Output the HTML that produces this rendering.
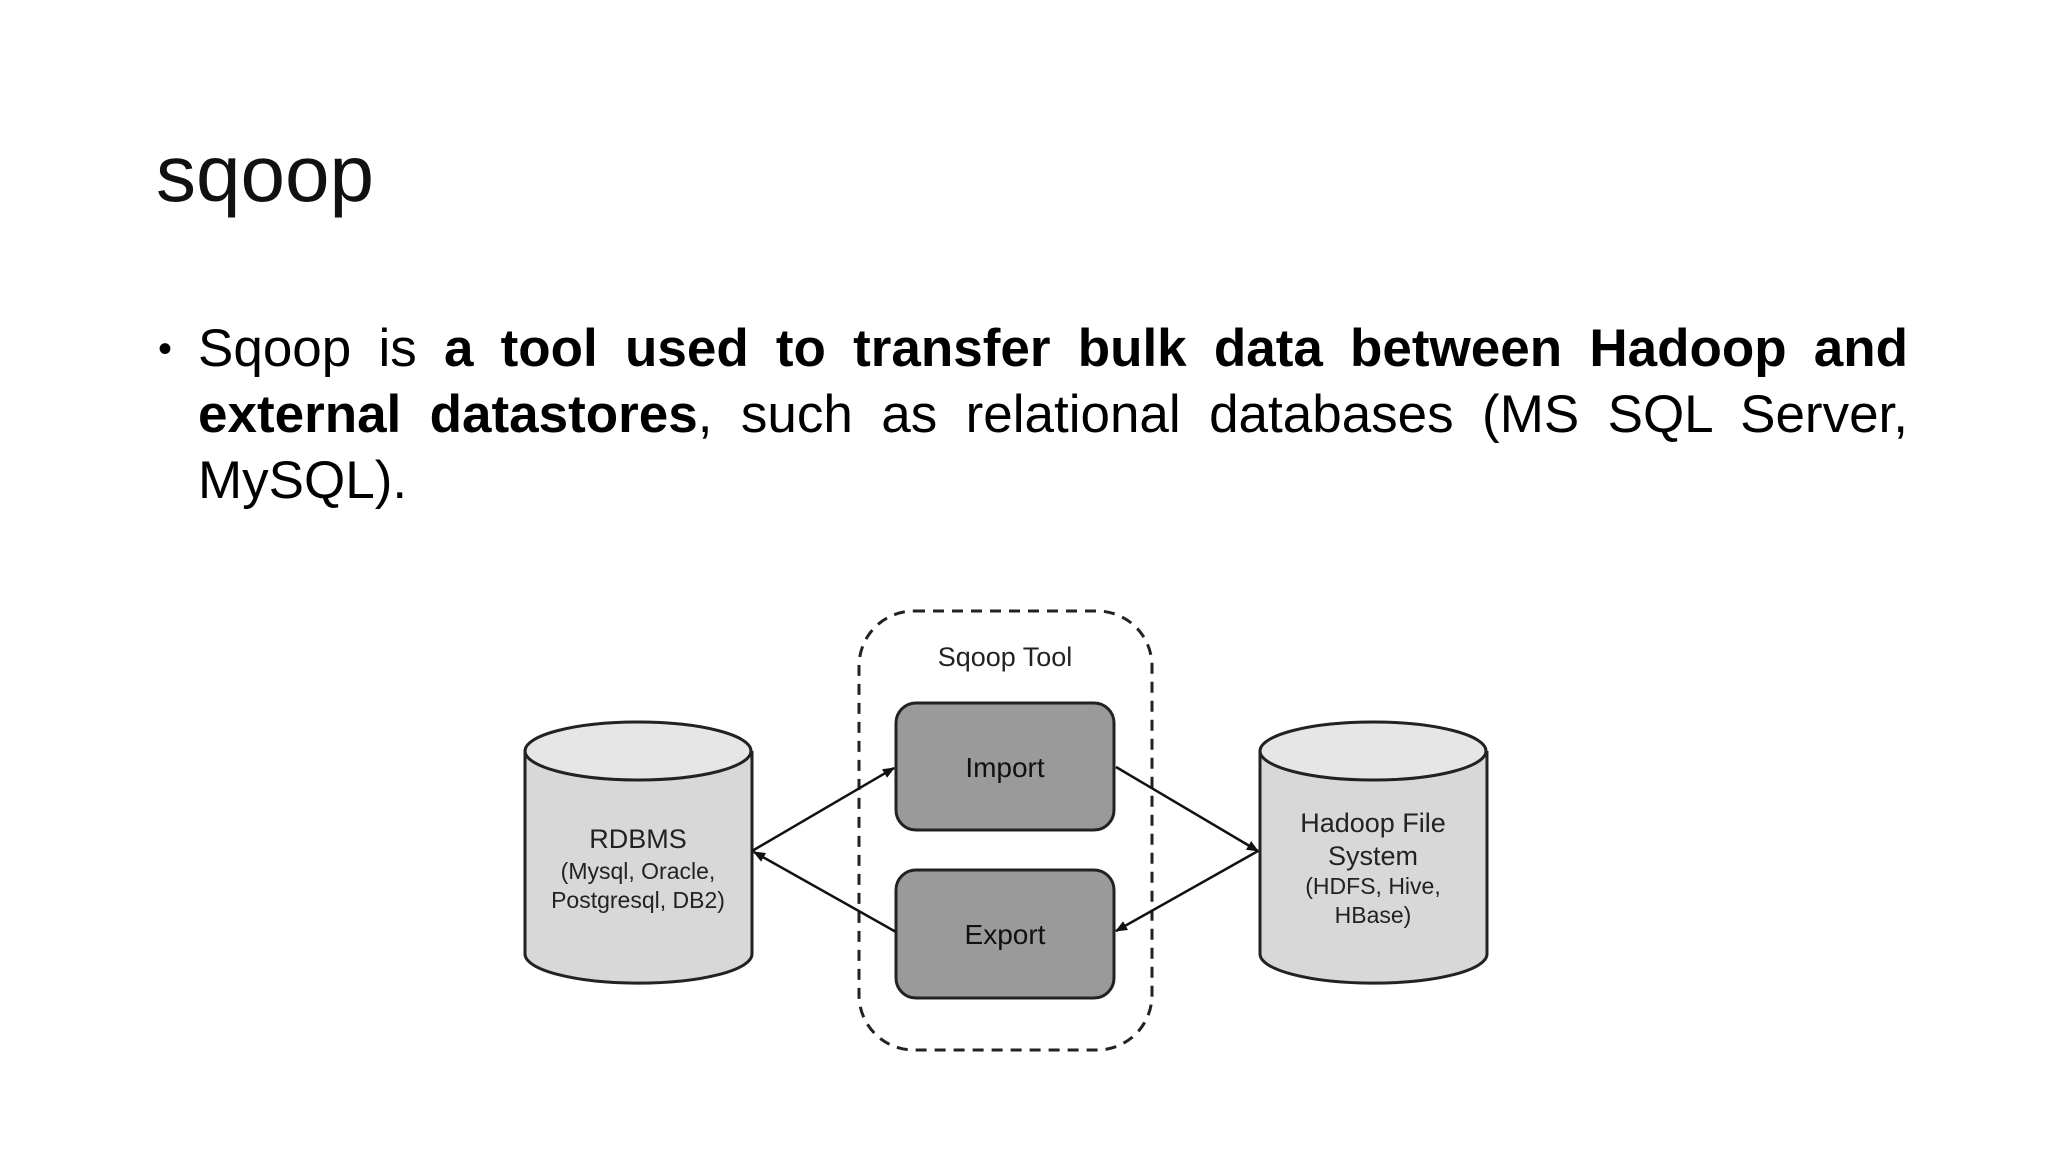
<!DOCTYPE html>
<html><head><meta charset="utf-8"><style>
body{margin:0;background:#fff;width:2048px;height:1152px;overflow:hidden;position:relative;font-family:"Liberation Sans",sans-serif}
.t{position:absolute;left:156px;top:128px;font-size:80px;color:#111;font-weight:300}
.b{position:absolute;left:198px;top:316px;width:1710px;font-size:53px;line-height:66px;text-align:justify;color:#000}
.dot{position:absolute;left:158px;top:316px;font-size:40px;line-height:66px}
</style></head><body>
<div class="t">sqoop</div>
<div class="dot">•</div>
<div class="b">Sqoop is <b>a tool used to transfer bulk data between Hadoop and external datastores</b>, such as relational databases (MS SQL Server, MySQL).</div>
<svg width="2048" height="1152" style="position:absolute;left:0;top:0" font-family="Liberation Sans, sans-serif">
<defs><marker id="a" markerWidth="12" markerHeight="10" refX="11" refY="5" orient="auto" markerUnits="userSpaceOnUse"><path d="M0,0 L12,5 L0,10z" fill="#111"/></marker></defs>
<rect x="859" y="611" width="293" height="439" rx="55" fill="none" stroke="#222" stroke-width="3" stroke-dasharray="11,8"/>
<text x="1005" y="666" font-size="27" text-anchor="middle" fill="#222">Sqoop Tool</text>
<rect x="896" y="703" width="218" height="127" rx="20" fill="#9a9a9a" stroke="#222" stroke-width="3"/>
<rect x="896" y="870" width="218" height="128" rx="20" fill="#9a9a9a" stroke="#222" stroke-width="3"/>
<text x="1005" y="777" font-size="28" text-anchor="middle" fill="#111">Import</text>
<text x="1005" y="944" font-size="28" text-anchor="middle" fill="#111">Export</text>
<g stroke="#222" stroke-width="3" fill="#d8d8d8">
<path d="M525,751 L525,954 A113,29 0 0 0 752,954 L752,751"/>
<ellipse cx="638" cy="751" rx="113" ry="29" fill="#e6e6e6"/>
<path d="M1260,751 L1260,954 A113,29 0 0 0 1487,954 L1487,751"/>
<ellipse cx="1373" cy="751" rx="113" ry="29" fill="#e6e6e6"/>
</g>
<g fill="#222" text-anchor="middle">
<text x="638" y="848" font-size="27">RDBMS</text>
<text x="638" y="879" font-size="23">(Mysql, Oracle,</text>
<text x="638" y="908" font-size="23">Postgresql, DB2)</text>
<text x="1373" y="832" font-size="27">Hadoop File</text>
<text x="1373" y="865" font-size="27">System</text>
<text x="1373" y="894" font-size="23">(HDFS, Hive,</text>
<text x="1373" y="923" font-size="23">HBase)</text>
</g>
<g stroke="#111" stroke-width="2.5">
<line x1="752" y1="851" x2="894" y2="768" marker-end="url(#a)"/>
<line x1="1116" y1="767" x2="1258" y2="851" marker-end="url(#a)"/>
<line x1="1258" y1="851" x2="1116" y2="931" marker-end="url(#a)"/>
<line x1="896" y1="932" x2="754" y2="852" marker-end="url(#a)"/>
</g>
</svg>
</body></html>
